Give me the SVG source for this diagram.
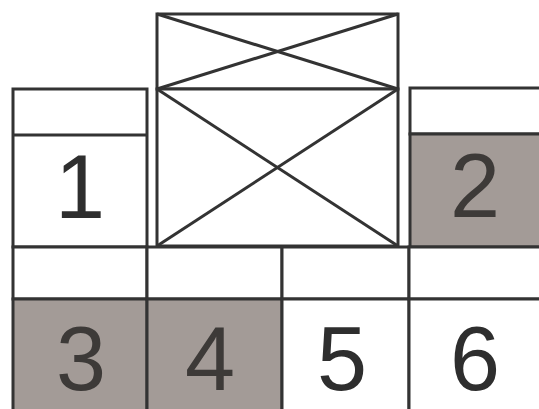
<svg xmlns="http://www.w3.org/2000/svg" width="539" height="409" viewBox="0 0 539 409">
<style>
.b{fill:none;stroke:#333;stroke-width:3}
.w{fill:#fff;stroke:#333;stroke-width:3}
.g{fill:#a39b97;stroke:#333;stroke-width:3}
.t{font-family:"Liberation Sans",Arial,sans-serif;font-size:90px;fill:#2e2e2e;text-anchor:middle}
.tg{fill:#3d3a38}
</style>
<rect width="539" height="409" fill="#fff"/>
<g id="top">
<rect class="w" x="157" y="14" width="241" height="75"/>
<line class="b" x1="157" y1="14" x2="398" y2="89"/>
<line class="b" x1="398" y1="14" x2="157" y2="89"/>
</g>
<g id="center">
<rect class="w" x="157" y="89" width="241" height="157"/>
<line class="b" x1="157" y1="89" x2="398" y2="246"/>
<line class="b" x1="398" y1="89" x2="157" y2="246"/>
</g>
<g id="n1">
<rect class="w" x="13" y="89" width="134" height="158"/>
<line class="b" x1="13" y1="135" x2="147" y2="135"/>
<text class="t" x="80" y="218">1</text>
</g>
<g id="n2">
<rect class="w" x="410" y="88" width="135" height="46"/>
<rect class="g" x="410" y="134" width="135" height="113"/>
<text class="t tg" x="475" y="217">2</text>
</g>
<g id="n3">
<rect class="w" x="13" y="247" width="134" height="52"/>
<rect class="g" x="13" y="299" width="134" height="115"/>
<text class="t tg" x="81" y="390">3</text>
</g>
<g id="n4">
<rect class="w" x="147" y="247" width="135" height="52"/>
<rect class="g" x="147" y="299" width="135" height="115"/>
<text class="t tg" x="210" y="390">4</text>
</g>
<g id="n5">
<rect class="w" x="282" y="247" width="127" height="52"/>
<rect class="w" x="282" y="299" width="127" height="115"/>
<text class="t" x="342" y="390">5</text>
</g>
<g id="n6">
<rect class="w" x="409" y="247" width="136" height="52"/>
<rect class="w" x="409" y="299" width="136" height="115"/>
<text class="t" x="475" y="390">6</text>
</g>
<g id="connectors"></g>
</svg>
